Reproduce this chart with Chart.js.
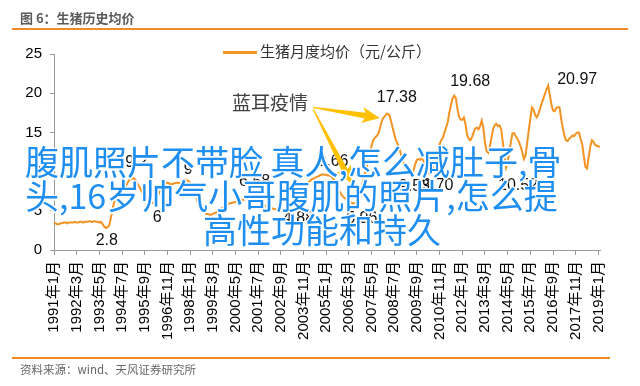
<!DOCTYPE html>
<html>
<head>
<meta charset="utf-8">
<script src="https://cdn.jsdelivr.net/npm/chart.js@4"></script>
<style>
  body { margin: 0; width: 640px; height: 386px; overflow: hidden; position: relative; background: #fff;
         font-family: "Noto Sans CJK SC", sans-serif; }
  #c { position: absolute; left: 0; top: 0; }
  .rule { position: absolute; left: 12px; height: 1.5px; background: #f08a24; }
  #hdr { position: absolute; left: 20px; top: 8px; font-size: 13px; font-weight: bold; color: #5a5a5a; }
  #src { position: absolute; left: 20px; top: 361px; font-size: 11.5px; color: #666; }
  #legend { position: absolute; left: 223px; top: 41px; font-size: 15px; color: #333; line-height: 20px; }
  #legend .sw { display: inline-block; width: 34px; height: 3px; background: #f39323; vertical-align: middle; margin-right: 3px; }
  .ov { position: absolute; font-size: 34px; line-height: 34px; color: #1e8ff0; white-space: nowrap;
        text-shadow: 1.5px 0 #fff, -1.5px 0 #fff, 0 1.5px #fff, 0 -1.5px #fff, 1px 1px #fff, -1px -1px #fff, 1px -1px #fff, -1px 1px #fff; }
</style>
</head>
<body>
<canvas id="c" width="640" height="386"></canvas>
<div id="hdr">图 6：生猪历史均价</div>
<div class="rule" style="top:28px; width:616px"></div>
<div id="legend"><span class="sw"></span>生猪月度均价（元/公斤）</div>
<div class="rule" style="top:357px; width:598px"></div>
<div id="src">资料来源：wind、天风证券研究所</div>
<div class="ov" style="left:25px; top:144px">腹肌照片不带脸 真人,怎么减肚子,骨</div>
<div class="ov" style="left:25px; top:178px">头,16岁帅气小哥腹肌的照片,怎么提</div>
<div class="ov" style="left:203px; top:212px">高性功能和持久</div>
<script>
// 生猪月度均价（元/公斤），1991年1月 - 2019年2月
const price = [
  3.4,3.4,3.3,3.3,3.4,3.4,3.5,3.5,3.4,3.5,3.5,3.5,          // 1991
  3.5,3.6,3.5,3.5,3.6,3.6,3.5,3.6,3.6,3.6,3.7,3.6,          // 1992
  3.6,3.7,3.6,3.6,3.5,3.6,3.3,3.0,2.8,2.9,3.1,4.0,          // 1993
  5.0,6.0,6.8,7.2,7.4,7.5,7.6,7.8,8.0,8.4,8.8,9.0,          // 1994
  9.1,9.2,9.0,8.7,8.3,7.9,7.5,7.1,6.8,6.5,6.2,6.0,          // 1995
  6.0,6.0,6.2,6.5,6.9,7.3,7.7,8.0,8.3,8.5,8.6,8.5,          // 1996
  8.4,8.4,8.5,8.5,8.6,8.5,8.6,8.7,8.8,9.0,8.9,8.8,          // 1997
  8.6,8.4,8.0,7.4,6.6,5.8,5.2,4.9,4.8,4.7,4.6,4.6,          // 1998
  4.5,4.5,4.6,4.7,4.8,5.0,5.1,5.2,5.4,5.5,5.6,5.8,          // 1999
  5.9,6.0,6.0,6.1,6.1,6.2,6.3,6.3,6.4,6.4,6.5,6.5,          // 2000
  6.5,6.5,6.58,6.5,6.4,6.3,6.2,6.0,5.9,5.8,5.7,5.6,         // 2001
  5.5,5.4,5.3,5.3,5.2,5.2,5.1,5.1,5.0,5.0,5.0,4.95,         // 2002
  4.9,4.9,4.88,4.9,5.0,5.2,5.5,5.9,6.4,6.9,7.4,7.9,         // 2003
  8.3,8.6,8.8,9.0,9.1,9.2,9.3,9.4,9.5,9.6,9.66,9.6,         // 2004
  9.6,9.5,9.5,9.4,9.2,8.9,8.5,8.0,7.6,7.2,6.9,6.7,          // 2005
  6.5,6.4,6.2,6.1,6.0,5.96,6.0,6.2,6.6,7.2,8.0,9.0,         // 2006
  9.8,10.5,11.3,12.3,13.3,14.0,14.3,14.5,14.8,15.4,16.2,16.8,   // 2007
  17.0,17.3,17.38,17.2,16.5,15.6,14.8,14.0,13.6,13.0,12.3,11.6, // 2008
  11.0,10.4,10.0,9.7,9.53,9.6,10.2,11.0,11.5,11.6,11.5,11.7,    // 2009
  11.4,10.9,10.3,9.9,9.70,9.8,10.5,11.5,12.2,12.8,13.5,14.0,    // 2010
  14.3,15.0,15.6,16.3,17.5,18.5,19.3,19.68,19.4,18.0,17.0,16.6, // 2011
  16.6,16.9,16.0,14.6,14.2,14.0,14.4,15.0,15.5,15.6,15.4,15.8,  // 2012
  16.5,15.6,13.7,12.6,12.4,13.2,14.3,15.4,15.9,16.1,15.8,15.9,  // 2013
  15.4,13.8,12.0,10.52,11.2,12.5,13.8,14.9,14.9,14.5,14.2,13.8, // 2014
  13.2,12.5,11.6,12.0,13.6,15.2,16.8,18.2,17.9,17.2,16.9,17.4,  // 2015
  18.0,18.7,19.3,19.9,20.5,20.97,19.8,18.6,17.8,17.7,18.1,18.2, // 2016
  18.2,16.8,15.6,14.6,14.0,13.9,14.2,14.4,14.6,14.5,14.8,15.0,  // 2017
  15.0,14.2,13.5,12.0,10.6,10.4,11.8,13.2,14.0,13.8,13.4,13.3,  // 2018
  13.2,13.2                                                     // 2019
];

const months = [];
for (let y = 1991; months.length < price.length; y++) {
  for (let m = 1; m <= 12 && months.length < price.length; m++) months.push(y + '年' + m + '月');
}
const tickEvery = 14;   // 坐标轴每14个月一个刻度

// 峰谷标注：[月份序号, 文本]
const marks = [[32,'2.8'],[49,'9.2'],[60,'6'],[81,'9'],[122,'6.58'],[146,'4.88'],[166,'9.66'],
  [185,'5.96'],[206,'17.38'],[220,'9.53'],[232,'9.70'],[247,'19.68'],[279,'10.52'],[305,'20.97']];
// 标注文字相对数据点的偏移
const markShift = [[1,13],[3,-15],[6,15],[3,-10],[3,-17],[8,7],[10,-13],
  [8,15],[9,-16],[4,11],[8,12],[16,-14],[12,18],[29,-6]];

const latin = '"Liberation Sans", Arial, "Noto Sans CJK SC", sans-serif';

function arrow(ctx, x0, y0, x1, y1) {
  const a = Math.atan2(y1 - y0, x1 - x0), len = Math.hypot(x1 - x0, y1 - y0);
  ctx.save();
  ctx.translate(x0, y0);
  ctx.rotate(a);
  ctx.beginPath();
  ctx.moveTo(0, -0.6);
  ctx.lineTo(len - 15, -3);
  ctx.lineTo(len - 18, -8);
  ctx.lineTo(len, 0);
  ctx.lineTo(len - 18, 8);
  ctx.lineTo(len - 15, 3);
  ctx.lineTo(0, 0.6);
  ctx.closePath();
  ctx.fill();
  ctx.restore();
}

const notes = {
  id: 'notes',
  afterDatasetsDraw(chart) {
    const { ctx, scales: { x, y } } = chart;
    ctx.save();
    ctx.font = '16px ' + latin;
    ctx.fillStyle = '#111';
    ctx.textAlign = 'center';
    ctx.textBaseline = 'middle';
    marks.forEach(([i, t], k) => {
      ctx.fillText(t, x.getPixelForValue(i) + markShift[k][0], y.getPixelForValue(price[i]) + markShift[k][1]);
    });
    // 蓝耳疫情 + arrows
    ctx.font = '19px "Noto Sans CJK SC", sans-serif';
    ctx.fillStyle = '#404040';
    ctx.fillText('蓝耳疫情', x.getPixelForValue(133.3), y.getPixelForValue(18.75));
    ctx.fillStyle = '#ffc000';
    const sx = x.getPixelForValue(160), sy = y.getPixelForValue(18.2);
    arrow(ctx, sx, sy, x.getPixelForValue(201.2), y.getPixelForValue(16.84));
    arrow(ctx, sx, sy + 2, x.getPixelForValue(183.9), y.getPixelForValue(8.42));
    ctx.restore();
  }
};

new Chart(document.getElementById('c'), {
  type: 'line',
  data: {
    labels: months,
    datasets: [{
      label: '生猪月度均价（元/公斤）',
      data: price,
      borderColor: '#f39323',
      borderWidth: 2,
      pointRadius: 0,
      tension: 0
    }]
  },
  options: {
    responsive: false,
    animation: false,
    events: [],
    layout: { padding: { left: 10, right: 40, top: 54, bottom: 0 } },
    plugins: { legend: { display: false }, tooltip: { enabled: false } },
    scales: {
      x: {
        grid: { drawOnChartArea: false, tickLength: 5, color: '#999' },
        border: { color: '#999' },
        afterBuildTicks: ax => { ax.ticks = ax.ticks.filter(t => t.value % tickEvery === 0); },
        afterFit: s => { s.height = 136; },
        ticks: { autoSkip: false, minRotation: 90, maxRotation: 90, padding: 6, color: '#000',
                 font: { size: 15, family: latin } }
      },
      y: {
        min: 0, max: 25,
        grid: { drawOnChartArea: false, tickLength: 4, color: '#999' },
        border: { color: '#999' },
        afterFit: s => { s.width = 44; },
        ticks: { stepSize: 5, padding: 8, color: '#000', font: { size: 15, family: latin } }
      }
    }
  },
  plugins: [notes]
});
</script>
</body>
</html>
